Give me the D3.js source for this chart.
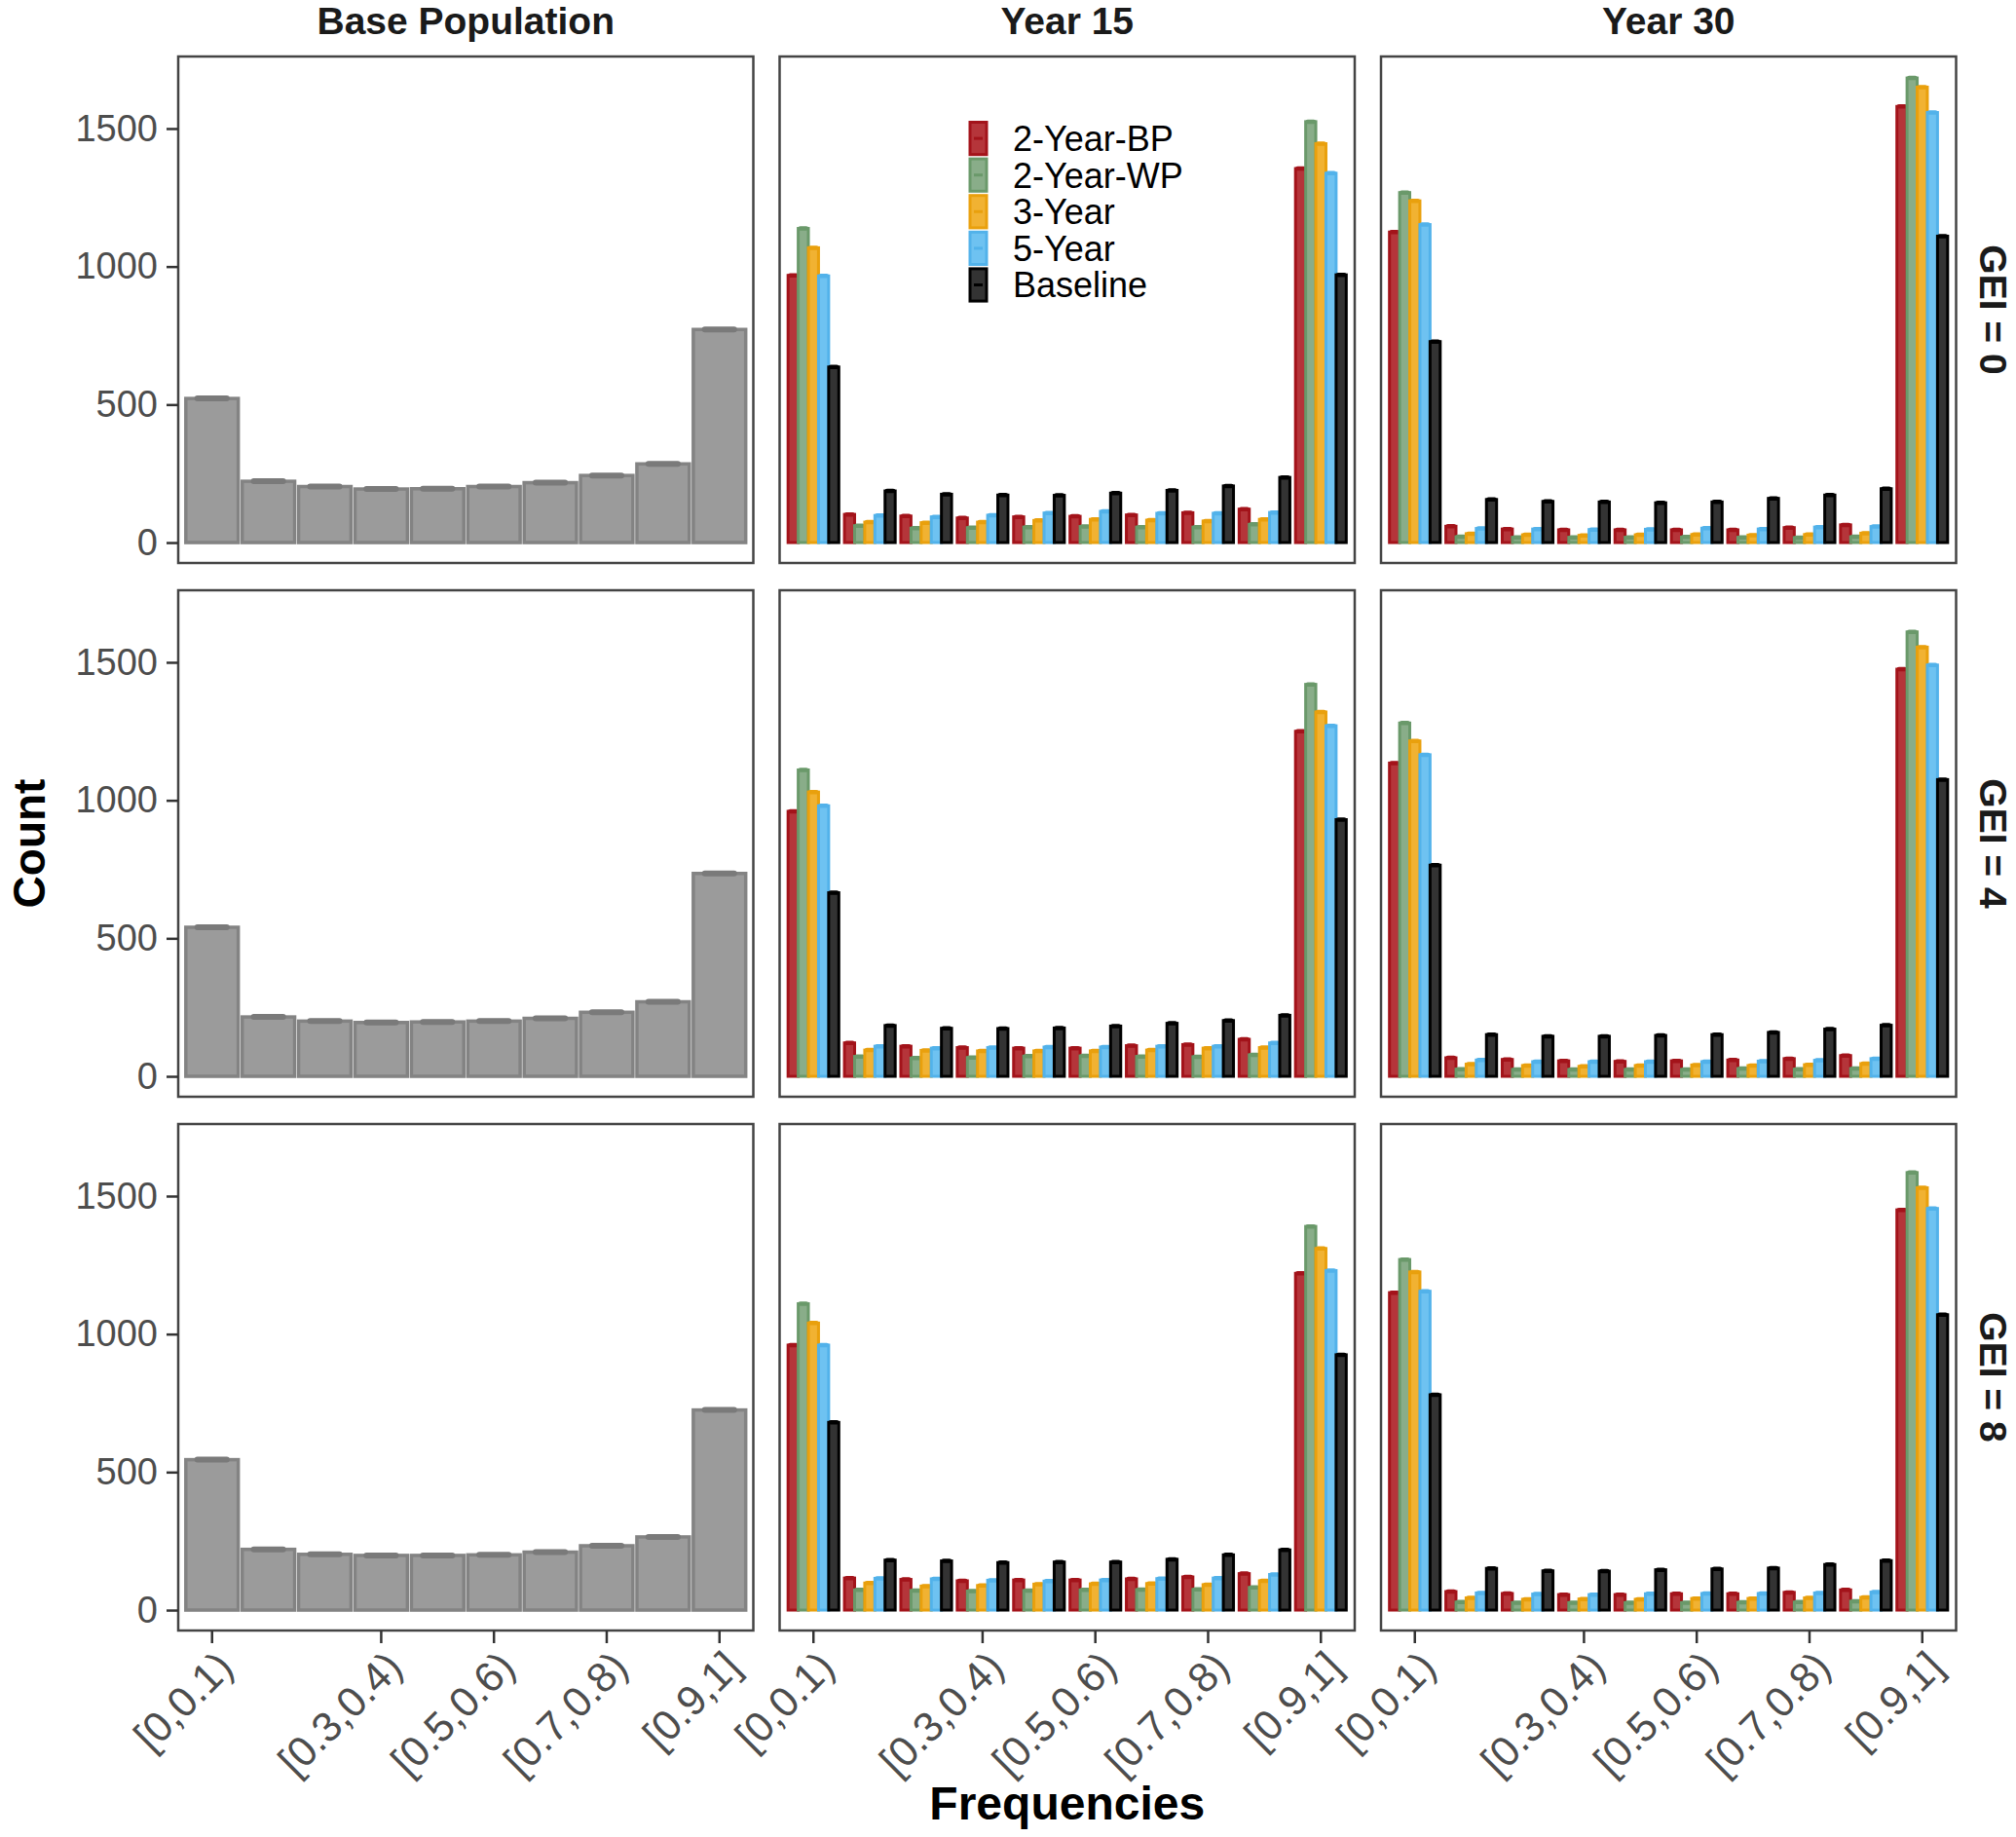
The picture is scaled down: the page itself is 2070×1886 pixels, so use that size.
<!DOCTYPE html>
<html>
<head>
<meta charset="utf-8">
<script src="https://cdn.jsdelivr.net/npm/d3@7"></script>
<style>
  body { margin: 0; background: #fff; }
  text { font-family: "Liberation Sans", Arial, Helvetica, sans-serif; }
</style>
</head>
<body>
<script>
// ---------------- DATA ----------------
const categories = ["[0,0.1)","[0.1,0.2)","[0.2,0.3)","[0.3,0.4)","[0.4,0.5)","[0.5,0.6)","[0.6,0.7)","[0.7,0.8)","[0.8,0.9)","[0.9,1]"];
const tickCategories = ["[0,0.1)","[0.3,0.4)","[0.5,0.6)","[0.7,0.8)","[0.9,1]"];
const seriesNames = ["2-Year-BP","2-Year-WP","3-Year","5-Year","Baseline"];
const columnTitles = ["Base Population","Year 15","Year 30"];
const rowTitles = ["GEI = 0","GEI = 4","GEI = 8"];
const yTicks = [0, 500, 1000, 1500];

// Base population counts per GEI level
const base_g0 = [522, 222, 203, 194, 195, 203, 217, 243, 285, 772];
const base_g4 = [540, 215, 200, 195, 197, 200, 210, 232, 270, 735];
const base_g8 = [545, 220, 202, 198, 198, 200, 210, 233, 265, 725];

// Year 15, GEI = 0
const y15_g0_bp = [968, 102, 96, 89, 93, 95, 100, 108, 121, 1355];
const y15_g0_wp = [1138, 61, 52, 54, 56, 58, 56, 56, 66, 1525];
const y15_g0_3y = [1068, 74, 72, 74, 80, 84, 81, 78, 84, 1445];
const y15_g0_5y = [966, 98, 93, 99, 107, 113, 106, 106, 109, 1338];
const y15_g0_bl = [636, 187, 175, 172, 171, 179, 189, 205, 236, 970];
// Year 30, GEI = 0
const y30_g0_bp = [1125, 59, 49, 46, 46, 46, 46, 54, 64, 1580];
const y30_g0_wp = [1268, 21, 19, 19, 19, 20, 19, 18, 21, 1683];
const y30_g0_3y = [1238, 32, 28, 26, 28, 29, 27, 29, 34, 1650];
const y30_g0_5y = [1152, 51, 49, 47, 48, 52, 49, 56, 58, 1558];
const y30_g0_bl = [728, 156, 149, 147, 144, 147, 160, 172, 195, 1110];
// Year 15, GEI = 4
const y15_g4_bp = [960, 121, 109, 104, 102, 102, 111, 115, 134, 1250];
const y15_g4_wp = [1110, 72, 66, 68, 73, 74, 72, 71, 78, 1420];
const y15_g4_3y = [1030, 95, 94, 92, 92, 92, 95, 102, 104, 1320];
const y15_g4_5y = [980, 109, 102, 104, 106, 106, 109, 109, 121, 1270];
const y15_g4_bl = [665, 184, 174, 173, 175, 182, 192, 202, 221, 930];
// Year 30, GEI = 4
const y30_g4_bp = [1135, 67, 61, 56, 54, 56, 59, 64, 75, 1475];
const y30_g4_wp = [1280, 26, 25, 25, 25, 25, 28, 26, 28, 1610];
const y30_g4_3y = [1215, 44, 39, 36, 39, 41, 39, 42, 46, 1555];
const y30_g4_5y = [1165, 59, 53, 53, 53, 53, 55, 58, 64, 1490];
const y30_g4_bl = [765, 151, 145, 145, 148, 151, 159, 171, 185, 1075];
// Year 15, GEI = 8
const y15_g8_bp = [960, 116, 111, 106, 109, 109, 113, 120, 132, 1220];
const y15_g8_wp = [1110, 73, 71, 69, 71, 73, 74, 75, 82, 1390];
const y15_g8_3y = [1040, 98, 87, 89, 94, 95, 96, 92, 106, 1310];
const y15_g8_5y = [960, 115, 113, 108, 105, 109, 114, 116, 129, 1230];
const y15_g8_bl = [680, 181, 178, 172, 174, 174, 184, 200, 218, 925];
// Year 30, GEI = 8
const y30_g8_bp = [1150, 67, 60, 56, 56, 59, 59, 64, 73, 1450];
const y30_g8_wp = [1270, 29, 27, 27, 27, 27, 28, 29, 32, 1585];
const y30_g8_3y = [1225, 44, 39, 40, 39, 42, 42, 44, 46, 1530];
const y30_g8_5y = [1155, 62, 58, 56, 59, 60, 60, 62, 65, 1455];
const y30_g8_bl = [780, 151, 142, 141, 146, 149, 152, 165, 179, 1070];

// ---------------- STYLE ----------------
const strokeColors = ["#A3131A", "#6A996A", "#E9A00D", "#52B2EA", "#000000"];
const fillColors   = ["#B5353A", "#89AD89", "#F1B232", "#6EC2F1", "#333333"];
const baseStroke = "#838383", baseFill = "#9B9B9B";

// ---------------- LAYOUT ----------------
const W = 2070, H = 1886;
const panelX = [183, 800.5, 1418], panelW = 590.5;
const panelY = [58, 606, 1154], panelH = 520;
const yDomain = [-74, 1761];
const FONT = '"Liberation Sans", Arial, sans-serif';

const baseData = [base_g0, base_g4, base_g8];
const groupData = [
  [[y15_g0_bp, y15_g0_wp, y15_g0_3y, y15_g0_5y, y15_g0_bl], [y30_g0_bp, y30_g0_wp, y30_g0_3y, y30_g0_5y, y30_g0_bl]],
  [[y15_g4_bp, y15_g4_wp, y15_g4_3y, y15_g4_5y, y15_g4_bl], [y30_g4_bp, y30_g4_wp, y30_g4_3y, y30_g4_5y, y30_g4_bl]],
  [[y15_g8_bp, y15_g8_wp, y15_g8_3y, y15_g8_5y, y15_g8_bl], [y30_g8_bp, y30_g8_wp, y30_g8_3y, y30_g8_5y, y30_g8_bl]]
];

const svg = d3.select("body").append("svg").attr("width", W).attr("height", H);
svg.append("rect").attr("width", W).attr("height", H).attr("fill", "#fff");

function xScale(c) {
  return d3.scaleBand().domain(categories)
    .range([panelX[c], panelX[c] + panelW]).paddingInner(0).paddingOuter(0.1);
}

for (let r = 0; r < 3; r++) {
  const y = d3.scaleLinear().domain(yDomain).range([panelY[r] + panelH, panelY[r]]);
  for (let c = 0; c < 3; c++) {
    const x = xScale(c);
    const step = x.step();
    const g = svg.append("g");
    if (c === 0) {
      const vals = baseData[r];
      const bw = step * 0.93;
      g.selectAll("rect.bar").data(vals).join("rect")
        .attr("x", (d, i) => x(categories[i]) + step / 2 - bw / 2)
        .attr("width", bw)
        .attr("y", d => y(d))
        .attr("height", d => y(0) - y(d))
        .attr("fill", baseFill).attr("stroke", baseStroke).attr("stroke-width", 3.5);
      g.selectAll("line.err").data(vals).join("line")
        .attr("x1", (d, i) => x(categories[i]) + step / 2 - bw * 0.28)
        .attr("x2", (d, i) => x(categories[i]) + step / 2 + bw * 0.28)
        .attr("y1", d => y(d)).attr("y2", d => y(d))
        .attr("stroke", "#7a7a7a").attr("stroke-width", 6).attr("stroke-linecap", "round");
    } else {
      const sub = d3.scaleBand().domain(seriesNames).range([-step * 0.45, step * 0.45]);
      const bw = sub.bandwidth();
      const series = groupData[r][c - 1];
      series.forEach((vals, s) => {
        const name = seriesNames[s];
        g.selectAll(null).data(vals).join("rect")
          .attr("x", (d, i) => x(categories[i]) + step / 2 + sub(name))
          .attr("width", bw)
          .attr("y", d => y(d))
          .attr("height", d => y(0) - y(d))
          .attr("fill", fillColors[s]).attr("stroke", strokeColors[s]).attr("stroke-width", 3);
        g.selectAll(null).data(vals).join("line")
          .attr("x1", (d, i) => x(categories[i]) + step / 2 + sub(name) + bw * 0.2)
          .attr("x2", (d, i) => x(categories[i]) + step / 2 + sub(name) + bw * 0.8)
          .attr("y1", d => y(d)).attr("y2", d => y(d))
          .attr("stroke", strokeColors[s]).attr("stroke-width", 4.5).attr("stroke-linecap", "round");
      });
    }
    // panel border
    svg.append("rect").attr("x", panelX[c]).attr("y", panelY[r])
      .attr("width", panelW).attr("height", panelH)
      .attr("fill", "none").attr("stroke", "#444").attr("stroke-width", 2.5);

    // x axis on last row
    if (r === 2) {
      const ax = svg.append("g").attr("transform", `translate(0,${panelY[r] + panelH})`)
        .call(d3.axisBottom(x).tickValues(tickCategories).tickSize(13).tickPadding(4));
      ax.select(".domain").remove();
      ax.selectAll(".tick line").attr("stroke", "#333").attr("stroke-width", 2.5);
      ax.selectAll(".tick text")
        .attr("x", 0).attr("y", 0).attr("dy", "0.72em")
        .attr("text-anchor", "end")
        .attr("transform", "translate(2,18) rotate(-45)")
        .attr("fill", "#4d4d4d").style("font-size", "43px")
        .style("font-family", FONT);
    }
  }
  // y axis
  const ay = svg.append("g").attr("transform", `translate(${panelX[0]},0)`)
    .call(d3.axisLeft(y).tickValues(yTicks).tickFormat(d3.format("d")).tickSize(12).tickPadding(9));
  ay.select(".domain").remove();
  ay.selectAll(".tick line").attr("stroke", "#333").attr("stroke-width", 2.5);
  ay.selectAll(".tick text").attr("fill", "#4d4d4d").style("font-size", "38px")
    .style("font-family", FONT);

  // row strip label
  const cy = panelY[r] + panelH / 2;
  svg.append("text").attr("transform", `translate(2047,${cy}) rotate(90)`)
    .attr("text-anchor", "middle").attr("dy", "0.36em")
    .style("font-size", "39px").style("font-weight", "bold").attr("fill", "#1a1a1a")
    .text(rowTitles[r]);
}

// column strip titles
columnTitles.forEach((t, c) => {
  svg.append("text").attr("x", panelX[c] + panelW / 2).attr("y", 35)
    .attr("text-anchor", "middle")
    .style("font-size", "39px").style("font-weight", "bold").attr("fill", "#1a1a1a")
    .text(t);
});

// axis titles
svg.append("text").attr("x", panelX[0] + (panelX[2] + panelW - panelX[0]) / 2).attr("y", 1868)
  .attr("text-anchor", "middle").style("font-size", "48px").style("font-weight", "bold")
  .attr("fill", "#000").text("Frequencies");
svg.append("text").attr("transform", `translate(46,${(panelY[0] + panelY[2] + panelH) / 2}) rotate(-90)`)
  .attr("text-anchor", "middle").style("font-size", "46px").style("font-weight", "bold")
  .attr("fill", "#000").text("Count");

// legend inside Year 15 / GEI = 0 panel
const legend = svg.append("g").attr("transform", "translate(996,124)");
const keyH = 36.2, keyPitch = 37.6, keyW = 17;
seriesNames.forEach((name, s) => {
  const gy = s * keyPitch;
  legend.append("rect").attr("x", 0).attr("y", gy + 1.5).attr("width", keyW).attr("height", keyH - 3)
    .attr("fill", fillColors[s]).attr("stroke", strokeColors[s]).attr("stroke-width", 3);
  legend.append("line").attr("x1", 4).attr("x2", keyW - 4)
    .attr("y1", gy + keyH / 2).attr("y2", gy + keyH / 2)
    .attr("stroke", strokeColors[s]).attr("stroke-width", 3);
  legend.append("text").attr("x", 44).attr("y", gy + keyH / 2).attr("dy", "0.36em")
    .style("font-size", "36px").attr("fill", "#000").text(name);
});
</script>
</body>
</html>
